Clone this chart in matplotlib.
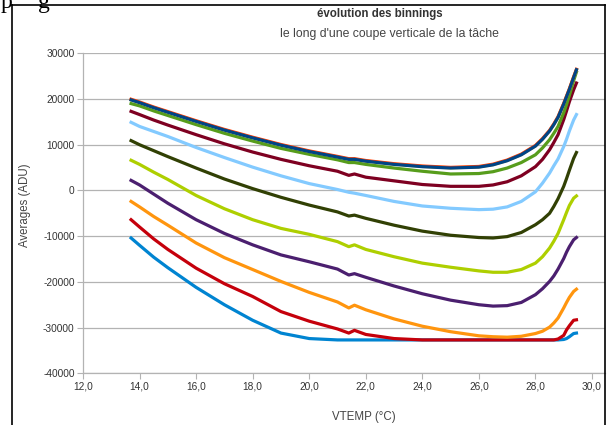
import matplotlib
matplotlib.use("Agg")
import matplotlib.pyplot as plt
from matplotlib.lines import Line2D

plt.rcParams['font.family'] = ['Liberation Sans', 'DejaVu Sans']

# temperatures communes a toutes les series (degC)
vtemp = [13.7, 14.0, 14.5, 15.0, 16.0, 17.0, 18.0, 19.0, 20.0, 21.0, 21.4, 21.6, 22.0, 23.0, 24.0,
         25.0, 26.0, 26.5, 27.0, 27.5, 28.0, 28.25, 28.5, 28.65, 28.8, 29.0, 29.1, 29.2, 29.35, 29.45]

# moyennes (ADU) pour chaque binning, du haut vers le bas
s01 = [19800, 19200, 18100, 17100, 15100, 13200, 11500, 9900, 8500, 7300, 6800, 6800, 6400, 5700, 5200,
       4900, 5100, 5600, 6500, 7800, 9700, 11200, 13000, 14400, 16000, 18900, 20500, 22100, 24700, 26400]
s02 = [19950, 19350, 18250, 17250, 15250, 13350, 11650, 10050, 8650, 7450, 6950, 6950, 6550, 5850, 5350,
       5050, 5250, 5750, 6650, 7950, 9850, 11350, 13150, 14550, 16150, 19050, 20650, 22250, 24850, 26500]
s03 = [19850, 19250, 18150, 17150, 15150, 13250, 11550, 9950, 8550, 7350, 6850, 6850, 6450, 5750, 5250,
       4950, 5150, 5650, 6550, 7850, 9750, 11250, 13050, 14450, 16050, 18950, 20550, 22150, 24750, 26400]
s04 = [19000, 18500, 17400, 16400, 14400, 12500, 10800, 9200, 7900, 6700, 6100, 6100, 5700, 4900, 4200,
       3600, 3700, 4100, 4900, 6100, 7800, 9300, 11100, 12500, 14000, 17000, 18800, 20800, 24000, 25900]
s05 = [17300, 16600, 15400, 14300, 12200, 10200, 8400, 6800, 5400, 4200, 3300, 3600, 2900, 2100, 1300,
       900, 900, 1200, 1900, 3200, 5200, 6800, 8900, 10500, 12200, 15500, 17400, 19400, 22000, 23500]
s06 = [14900, 14000, 12900, 11800, 9400, 7200, 5100, 3200, 1500, 200, -400, -600, -1100, -2400, -3400,
       -3900, -4200, -4100, -3600, -2400, -300, 1600, 3800, 5400, 6900, 9600, 11200, 13000, 15400, 16600]
s07 = [10900, 10000, 8700, 7400, 4900, 2500, 400, -1500, -3200, -4700, -5600, -5400, -6100, -7600, -8900,
       -9800, -10300, -10400, -10100, -9200, -7500, -6400, -5000, -3500, -1800, 900, 2600, 4400, 7000, 8300]
s08 = [6600, 5700, 4000, 2400, -1100, -4000, -6400, -8300, -9600, -11200, -12300, -11900, -12900, -14500, -15900,
       -16800, -17600, -17900, -17900, -17300, -15900, -14500, -12600, -11100, -9400, -6400, -4800, -3300, -1700, -1200]
s09 = [2200, 1200, -800, -2800, -6400, -9400, -11900, -14100, -15600, -17200, -18500, -18200, -19000, -20900, -22600,
       -24000, -25000, -25300, -25200, -24500, -22800, -21500, -19900, -18700, -17200, -14900, -13500, -12300, -10800, -10300]
s10 = [-2400, -3600, -5700, -7600, -11500, -14700, -17300, -19900, -22300, -24400, -25700, -25100, -26100, -28100, -29700,
       -30900, -31800, -32000, -32100, -31900, -31300, -30800, -29900, -29000, -27900, -25700, -24500, -23400, -22100, -21600]
s11 = [-6400, -8000, -10600, -12900, -17000, -20400, -23200, -26500, -28600, -30300, -31200, -30600, -31500, -32400, -32700,
       -32700, -32700, -32700, -32700, -32700, -32700, -32700, -32700, -32700, -32500, -31700, -30500, -29600, -28400, -28300]
s12 = [-10400, -12000, -14600, -16900, -21200, -25000, -28400, -31200, -32400, -32700, -32700, -32700, -32700, -32700, -32700,
       -32700, -32700, -32700, -32700, -32700, -32700, -32700, -32700, -32700, -32700, -32600, -32400, -32000, -31300, -31200]

series = [s01, s02, s03, s04, s05, s06, s07, s08, s09, s10, s11, s12]
couleurs = ['#004586', '#ff420e', '#ffd320', '#579d1c', '#7e0021', '#83caff',
            '#314004', '#aecf00', '#4b1f6f', '#ff950e', '#c5000b', '#0084d1']

x_ticks = [12, 14, 16, 18, 20, 22, 24, 26, 28, 30]
x_labels = ['12,0', '14,0', '16,0', '18,0', '20,0', '22,0', '24,0', '26,0', '28,0', '30,0']
y_ticks = [-40000, -30000, -20000, -10000, 0, 10000, 20000, 30000]
y_labels = ['-40000', '-30000', '-20000', '-10000', '0', '10000', '20000', '30000']

W, H = 612, 425
fig = plt.figure(figsize=(W / 100, H / 100), dpi=100)
ax = fig.add_axes([83 / W, (H - 373.3) / H, (605 - 83) / W, (373.3 - 53.3) / H])

# la premiere serie est tracee en dernier (au dessus)
for i in range(len(series) - 1, -1, -1):
    ax.plot(vtemp, series[i], color=couleurs[i], lw=2.3, solid_joinstyle='round', zorder=3 + 12 - i)

gris = '#b3b3b3'
texte = '#333333'
ax.set_xlim(12, 30.46)
ax.set_ylim(-40000, 30000)
ax.set_xticks(x_ticks)
ax.set_xticklabels(x_labels)
ax.set_yticks(y_ticks)
ax.set_yticklabels(y_labels)
ax.tick_params(colors=gris, labelcolor=texte, labelsize=7.3, length=4, width=0.8, pad=2)
ax.grid(axis='y', color=gris, lw=0.9)
ax.set_axisbelow(True)
for cote in ['top', 'right']:
    ax.spines[cote].set_visible(False)
for cote in ['left', 'bottom']:
    ax.spines[cote].set_color(gris)
    ax.spines[cote].set_linewidth(0.9)

fig.text(380 / W, 1 - 13.5 / H, 'évolution des binnings', ha='center', va='center',
         fontsize=8.3, fontweight='bold', color=texte)
fig.text(389 / W, 1 - 34 / H, "le long d'une coupe verticale de la tâche", ha='center', va='center',
         fontsize=8.8, color='#444444')
fig.text(364 / W, 1 - 417 / H, 'VTEMP (°C)', ha='center', va='center', fontsize=8.3, color='#444444')
fig.text(25 / W, 1 - 205 / H, 'Averages (ADU)', ha='center', va='center', rotation=90,
         fontsize=8.3, color='#444444')

# bas des lettres du texte de la page au dessus
fig.text(1 / W, 1 - 8 / H, 'p', ha='left', va='baseline', fontsize=17, family='Liberation Serif', color='black')
fig.text(38 / W, 1 - 8 / H, 'g', ha='left', va='baseline', fontsize=17, family='Liberation Serif', color='black')

# cadre noir autour du graphique
bord = dict(color='black', lw=1.2, transform=fig.transFigure)
fig.add_artist(Line2D([12 / W, 12 / W], [0, 1 - 5 / H], **bord))
fig.add_artist(Line2D([12 / W, 605 / W], [1 - 5 / H, 1 - 5 / H], **bord))
fig.add_artist(Line2D([605 / W, 605 / W], [0, 1 - 5 / H], **bord))

fig.savefig('out.png', dpi=100)
